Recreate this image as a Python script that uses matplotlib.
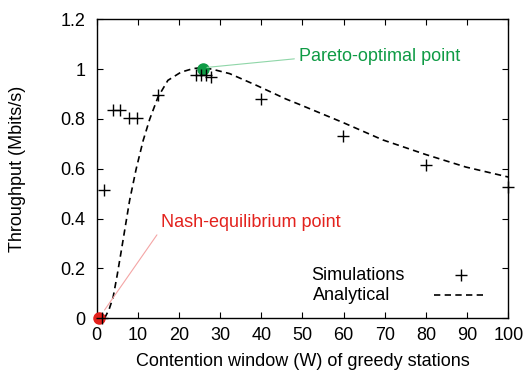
import matplotlib
matplotlib.use("Agg")
import matplotlib.pyplot as plt

plt.rcParams['font.family'] = ['Liberation Sans', 'DejaVu Sans']

# Simulation points
sim_w = [1.2, 1.9, 4.0, 5.6, 7.8, 9.8, 14.8, 24.2, 25.4, 26.6, 27.8, 39.8, 59.8, 79.9, 100]
sim_t = [0.0, 0.516, 0.835, 0.835, 0.803, 0.803, 0.897, 0.975, 0.975, 0.975, 0.97, 0.88, 0.73, 0.617, 0.527]

# Analytical curve
ana_w = [1.9, 3.0, 4.0, 5.0, 6.0, 7.2, 8.0, 9.6, 11.3, 12.9, 14.9, 17.3, 20.5, 23.4, 25.5, 28.0,
         32.3, 38.8, 46.0, 49.3, 59.8, 69.5, 80.0, 89.7, 100]
ana_t = [0.0, 0.035, 0.085, 0.175, 0.273, 0.393, 0.473, 0.60, 0.714, 0.80, 0.888, 0.955, 0.988,
         1.002, 1.006, 1.0, 0.982, 0.935, 0.88, 0.858, 0.786, 0.716, 0.657, 0.607, 0.567]

pareto = (25.8, 1.002)
nash = (0.5, 0)

xticks = [0, 10, 20, 30, 40, 50, 60, 70, 80, 90, 100]
yticks = [0, 0.2, 0.4, 0.6, 0.8, 1.0, 1.2]
yticklabels = ['0', '0.2', '0.4', '0.6', '0.8', '1', '1.2']

FS = 13
dash = (0, (3.8, 2.6))

fig = plt.figure(figsize=(5.28, 3.74), dpi=100)
ax = fig.add_axes([0.1831, 0.1489, 0.9627 - 0.1831, 0.9484 - 0.1489])

ax.plot(ana_w, ana_t, color='black', linestyle=dash, linewidth=1.2, zorder=2)
ax.plot(sim_w, sim_t, linestyle='none', marker='+', markersize=8, markeredgewidth=1.0,
        color='black', zorder=4, clip_on=False)

# highlighted points
ax.plot([pareto[0]], [pareto[1]], marker='o', markersize=8, color='#0f9b45', linestyle='none', zorder=3)
ax.plot([nash[0]], [nash[1]], marker='o', markersize=8, color='#e3221d', linestyle='none', zorder=3, clip_on=False)

# annotations
ax.annotate('Pareto-optimal point', xy=(pareto[0] + 1.0, pareto[1] + 0.005), xytext=(49.2, 1.05),
            color='#0f9b45', fontsize=FS, va='center', ha='left',
            arrowprops=dict(arrowstyle='-', color='#8fd6a8', linewidth=0.8, shrinkA=1.5, shrinkB=0,
                            relpos=(0, 0.4)))
ax.annotate('Nash-equilibrium point', xy=(1.9, 0.033), xytext=(15.6, 0.385),
            color='#e3221d', fontsize=FS, va='center', ha='left',
            arrowprops=dict(arrowstyle='-', color='#f4a5a5', linewidth=0.8, shrinkA=1.5, shrinkB=0,
                            relpos=(0, 0.1)))

# legend (manual layout imitating gnuplot)
ax.text(52.0, 0.172, 'Simulations', fontsize=FS, va='center', ha='left')
ax.text(52.5, 0.092, 'Analytical', fontsize=FS, va='center', ha='left')
ax.plot([88.5], [0.172], marker='+', markersize=8, markeredgewidth=1.0, color='black', linestyle='none')
ax.plot([82.0, 94.5], [0.092, 0.092], color='black', linestyle=dash, linewidth=1.2)

ax.set_xlim(0, 100)
ax.set_ylim(0, 1.2)
ax.set_xticks(xticks)
ax.set_yticks(yticks)
ax.set_yticklabels(yticklabels)
ax.tick_params(direction='in', length=4, width=0.8, top=True, right=True, labelsize=FS)
ax.tick_params(axis='y', pad=8)
ax.tick_params(axis='x', pad=6)
for s in ax.spines.values():
    s.set_linewidth(1.0)

ax.set_xlabel('Contention window (W) of greedy stations', fontsize=FS)
ax.set_ylabel('Throughput (Mbits/s)', fontsize=FS)
ax.xaxis.set_label_coords(0.5, -0.117)
ax.yaxis.set_label_coords(-0.172, 0.5)

fig.savefig('out.png', dpi=100)
